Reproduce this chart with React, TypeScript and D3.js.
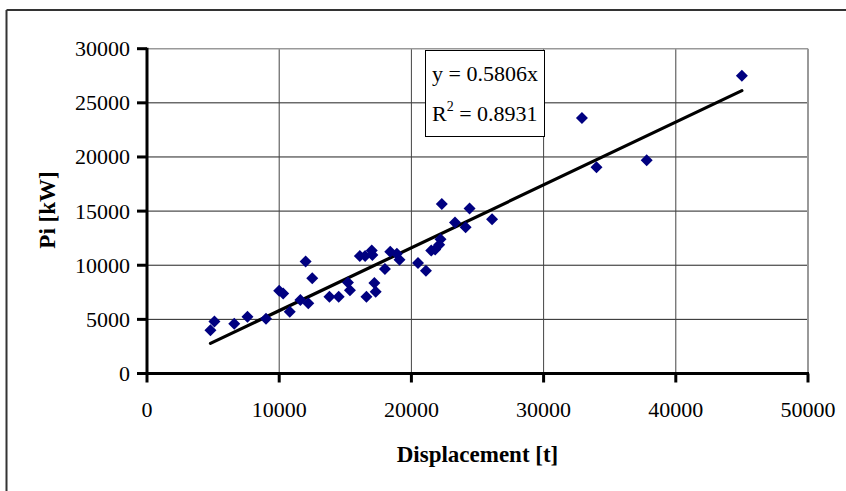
import React, { useEffect, useRef } from "react";
import { select, scaleLinear, range } from "d3";

// displacement [t] and indicated power [kW]
const displacement = [
  4800, 5100, 6600, 7600, 9000, 10000, 10300, 10800, 11600, 12000, 12200, 12500,
  13800, 14500, 15200, 15350, 16100, 16500, 16600, 17000, 17050, 17200, 17300,
  18000, 18400, 18900, 19100, 20500, 21100, 21500, 21800, 22100, 22200, 22300,
  23300, 24100, 24400, 26100, 32900, 34000, 37800, 45000,
];
const power = [
  4000, 4800, 4600, 5250, 5050, 7650, 7400, 5700, 6800, 10350, 6500, 8800,
  7100, 7100, 8400, 7700, 10850, 10850, 7100, 11350, 10950, 8350, 7550,
  9650, 11250, 11050, 10500, 10200, 9500, 11350, 11450, 11900, 12400, 15650,
  13950, 13500, 15250, 14250, 23600, 19050, 19700, 27500,
];
const xTicks = [0, 10000, 20000, 30000, 40000, 50000];
const yTicks = [0, 5000, 10000, 15000, 20000, 25000, 30000];
const slope = 0.5806;
const trendText = ["y = 0.5806x", "0.8931"];

const FONT = "'Times New Roman', 'Liberation Serif', serif";

export default function App() {
  const svgRef = useRef<SVGSVGElement>(null);

  useEffect(() => {
    const svg = select(svgRef.current!);
    svg.selectAll("*").remove();

    const left = 147, right = 808, top = 48.7, bottom = 373.5;
    const x = scaleLinear().domain([0, 50000]).range([left, right]);
    const y = scaleLinear().domain([0, 30000]).range([bottom, top]);

    // outer chart frame (only top and left edges visible)
    svg.append("line").attr("x1", 6.5).attr("x2", 846).attr("y1", 10).attr("y2", 10)
      .attr("stroke", "#333").attr("stroke-width", 2);
    svg.append("line").attr("x1", 6.5).attr("x2", 6.5).attr("y1", 10).attr("y2", 491)
      .attr("stroke", "#333").attr("stroke-width", 2);

    // grid
    const grid = svg.append("g");
    grid.selectAll(".hg").data(yTicks.slice(1, -1)).join("line")
      .attr("x1", left).attr("x2", right)
      .attr("y1", (d) => y(d)).attr("y2", (d) => y(d))
      .attr("stroke", "#222").attr("stroke-width", 1);
    grid.selectAll(".vg").data(xTicks.slice(1, -1)).join("line")
      .attr("x1", (d) => x(d)).attr("x2", (d) => x(d))
      .attr("y1", top).attr("y2", bottom)
      .attr("stroke", "#444").attr("stroke-width", 1);
    // top / right plot border in gray
    grid.append("line").attr("x1", left).attr("x2", right).attr("y1", top).attr("y2", top)
      .attr("stroke", "#999").attr("stroke-width", 1.5);
    grid.append("line").attr("x1", right).attr("x2", right).attr("y1", top).attr("y2", bottom)
      .attr("stroke", "#999").attr("stroke-width", 2);

    // axes
    svg.append("line").attr("x1", left).attr("x2", left).attr("y1", top - 1).attr("y2", bottom + 1.5)
      .attr("stroke", "#000").attr("stroke-width", 3);
    svg.append("line").attr("x1", left - 1.5).attr("x2", right + 1).attr("y1", bottom).attr("y2", bottom)
      .attr("stroke", "#000").attr("stroke-width", 3);

    svg.append("g").selectAll("line").data(yTicks).join("line")
      .attr("x1", left - 10).attr("x2", left)
      .attr("y1", (d) => y(d)).attr("y2", (d) => y(d))
      .attr("stroke", "#000").attr("stroke-width", 3);
    svg.append("g").selectAll("line").data(xTicks).join("line")
      .attr("x1", (d) => x(d)).attr("x2", (d) => x(d))
      .attr("y1", bottom).attr("y2", bottom + 9)
      .attr("stroke", "#000").attr("stroke-width", 3);

    svg.append("g").selectAll("text").data(yTicks).join("text")
      .attr("x", left - 17).attr("y", (d) => y(d))
      .attr("dy", "0.34em")
      .attr("text-anchor", "end")
      .attr("font-family", FONT).attr("font-size", 22)
      .text((d) => String(d));
    svg.append("g").selectAll("text").data(xTicks).join("text")
      .attr("x", (d) => x(d)).attr("y", 417)
      .attr("text-anchor", "middle")
      .attr("font-family", FONT).attr("font-size", 22)
      .text((d) => String(d));

    // axis titles
    svg.append("text").attr("x", (left + right) / 2).attr("y", 462)
      .attr("text-anchor", "middle").attr("font-family", FONT)
      .attr("font-size", 23).attr("font-weight", "bold")
      .text("Displacement [t]");
    svg.append("text").attr("transform", "translate(55,210) rotate(-90)")
      .attr("text-anchor", "middle").attr("font-family", FONT)
      .attr("font-size", 23).attr("font-weight", "bold")
      .text("Pi [kW]");

    // trend line
    const x0 = 4800, x1 = 45000;
    svg.append("line")
      .attr("x1", x(x0)).attr("y1", y(slope * x0))
      .attr("x2", x(x1)).attr("y2", y(slope * x1))
      .attr("stroke", "#000").attr("stroke-width", 3.2).attr("stroke-linecap", "round");

    // points
    const pts = range(displacement.length).map((i) => [displacement[i], power[i]]);
    svg.append("g").selectAll("path").data(pts).join("path")
      .attr("d", (d) => {
        const cx = x(d[0]), cy = y(d[1]), r = 6;
        return `M${cx},${cy - r}L${cx + r},${cy}L${cx},${cy + r}L${cx - r},${cy}Z`;
      })
      .attr("fill", "#000080");

    // equation box
    const box = svg.append("g");
    box.append("rect").attr("x", 425.5).attr("y", 50.5).attr("width", 119).attr("height", 86)
      .attr("fill", "#fff").attr("stroke", "#000").attr("stroke-width", 1);
    box.append("text").attr("x", 432).attr("y", 81)
      .attr("font-family", FONT).attr("font-size", 22)
      .text(trendText[0]);
    const r2 = box.append("text").attr("x", 432).attr("y", 121)
      .attr("font-family", FONT).attr("font-size", 22);
    r2.append("tspan").text("R");
    r2.append("tspan").attr("dy", -10).attr("font-size", 14).text("2");
    r2.append("tspan").attr("dy", 10).text(" = " + trendText[1]);
  }, []);

  return (
    <svg
      ref={svgRef}
      width={846}
      height={491}
      style={{ position: "absolute", left: 0, top: 0, background: "#fff" }}
    />
  );
}
